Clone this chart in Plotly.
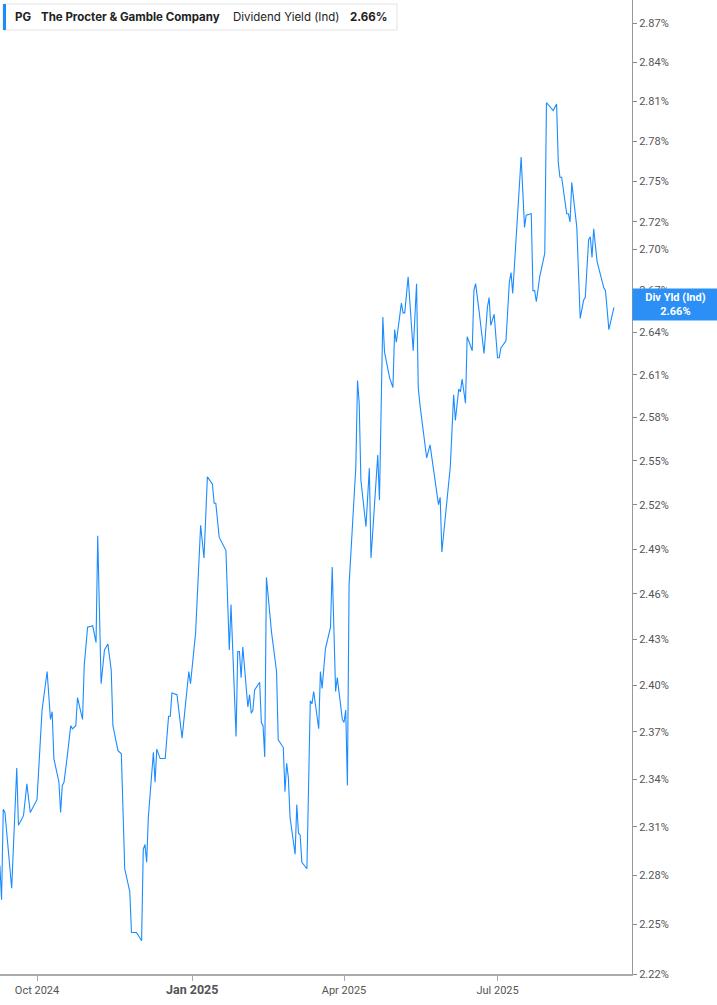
import math
import plotly.graph_objects as go

# Dividend yield (Ind) for PG
dates = [
    "2024-09-09", "2024-09-10", "2024-09-11", "2024-09-12", "2024-09-16", "2024-09-19",
    "2024-09-20", "2024-09-23", "2024-09-25", "2024-09-27",
    "2024-10-01", "2024-10-04", "2024-10-07", "2024-10-09", "2024-10-10", "2024-10-11",
    "2024-10-14", "2024-10-15", "2024-10-16", "2024-10-17", "2024-10-19", "2024-10-21",
    "2024-10-22", "2024-10-24", "2024-10-25", "2024-10-28", "2024-10-29", "2024-10-31",
    "2024-11-03", "2024-11-05", "2024-11-06", "2024-11-08", "2024-11-10", "2024-11-12",
    "2024-11-14", "2024-11-15", "2024-11-18", "2024-11-20", "2024-11-22", "2024-11-25",
    "2024-11-26", "2024-11-29",
    "2024-12-02", "2024-12-03", "2024-12-04", "2024-12-05", "2024-12-06", "2024-12-09",
    "2024-12-10", "2024-12-11", "2024-12-13", "2024-12-16", "2024-12-18", "2024-12-19",
    "2024-12-20", "2024-12-23", "2024-12-26", "2024-12-28", "2024-12-30", "2024-12-31",
    "2025-01-03", "2025-01-06", "2025-01-08", "2025-01-10", "2025-01-13", "2025-01-14",
    "2025-01-15", "2025-01-17", "2025-01-21", "2025-01-23", "2025-01-24", "2025-01-27",
    "2025-01-28", "2025-01-29", "2025-01-30", "2025-01-31",
    "2025-02-03", "2025-02-04", "2025-02-05", "2025-02-06", "2025-02-07", "2025-02-10",
    "2025-02-11", "2025-02-12", "2025-02-13", "2025-02-14", "2025-02-17", "2025-02-20",
    "2025-02-21", "2025-02-24", "2025-02-25", "2025-02-26", "2025-02-27", "2025-02-28",
    "2025-03-03", "2025-03-04", "2025-03-05", "2025-03-06", "2025-03-07", "2025-03-10",
    "2025-03-12", "2025-03-13", "2025-03-14", "2025-03-17", "2025-03-18", "2025-03-19",
    "2025-03-21", "2025-03-24", "2025-03-25", "2025-03-27", "2025-03-28", "2025-03-31",
    "2025-04-01", "2025-04-02", "2025-04-03", "2025-04-04", "2025-04-06", "2025-04-08",
    "2025-04-09", "2025-04-10", "2025-04-11", "2025-04-14", "2025-04-16", "2025-04-17",
    "2025-04-21", "2025-04-22", "2025-04-24", "2025-04-25", "2025-04-28", "2025-04-30",
    "2025-05-01", "2025-05-02", "2025-05-05", "2025-05-06", "2025-05-07", "2025-05-09",
    "2025-05-12", "2025-05-14", "2025-05-15", "2025-05-16", "2025-05-20", "2025-05-22",
    "2025-05-27", "2025-05-28", "2025-05-29",
    "2025-06-03", "2025-06-05", "2025-06-06", "2025-06-08", "2025-06-09", "2025-06-10",
    "2025-06-12", "2025-06-13", "2025-06-16", "2025-06-17", "2025-06-18", "2025-06-20",
    "2025-06-23", "2025-06-25", "2025-06-26", "2025-06-27", "2025-06-29",
    "2025-07-01", "2025-07-02", "2025-07-03", "2025-07-06", "2025-07-08", "2025-07-09",
    "2025-07-10", "2025-07-13", "2025-07-15", "2025-07-17", "2025-07-18", "2025-07-21",
    "2025-07-22", "2025-07-23", "2025-07-24", "2025-07-26", "2025-07-29", "2025-07-30",
    "2025-08-01", "2025-08-03", "2025-08-05", "2025-08-06", "2025-08-07", "2025-08-08",
    "2025-08-11", "2025-08-12", "2025-08-13", "2025-08-14", "2025-08-17", "2025-08-19",
    "2025-08-21", "2025-08-22", "2025-08-24", "2025-08-25", "2025-08-26", "2025-08-27",
    "2025-08-29", "2025-09-02", "2025-09-03", "2025-09-05", "2025-09-08",
]

div_yield = [
    2.286, 2.265, 2.321, 2.319, 2.272, 2.347, 2.311, 2.317, 2.337, 2.319,
    2.327, 2.384, 2.409, 2.378, 2.383, 2.353, 2.338, 2.319, 2.336, 2.338, 2.355, 2.374,
    2.372, 2.374, 2.392, 2.378, 2.413, 2.438,
    2.439, 2.428, 2.499, 2.401, 2.423, 2.427, 2.410, 2.374, 2.358, 2.356, 2.284, 2.270,
    2.245, 2.245,
    2.240, 2.296, 2.299, 2.288, 2.316, 2.357, 2.338, 2.359, 2.353, 2.353, 2.380, 2.380,
    2.395, 2.394, 2.366, 2.390, 2.409, 2.401,
    2.434, 2.506, 2.484, 2.539, 2.534, 2.521, 2.521, 2.498, 2.489, 2.423, 2.453, 2.367,
    2.422, 2.422, 2.405, 2.425,
    2.386, 2.394, 2.382, 2.384, 2.397, 2.402, 2.376, 2.374, 2.354, 2.471, 2.435, 2.409,
    2.365, 2.360, 2.332, 2.350, 2.341, 2.316,
    2.293, 2.324, 2.306, 2.305, 2.288, 2.284, 2.390, 2.388, 2.396, 2.372, 2.409, 2.398,
    2.424, 2.438, 2.478, 2.396, 2.405, 2.378,
    2.376, 2.384, 2.336, 2.466, 2.505, 2.546, 2.606, 2.590, 2.537, 2.505, 2.545, 2.484,
    2.554, 2.523, 2.651, 2.626, 2.608, 2.601,
    2.642, 2.633, 2.661, 2.654, 2.654, 2.680, 2.627, 2.675, 2.601, 2.589, 2.552, 2.561,
    2.520, 2.525, 2.488,
    2.546, 2.596, 2.578, 2.600, 2.598, 2.607, 2.590, 2.637, 2.627, 2.670, 2.675, 2.656,
    2.625, 2.658, 2.665, 2.645, 2.653,
    2.622, 2.622, 2.629, 2.634, 2.676, 2.683, 2.668, 2.729, 2.768, 2.716, 2.725, 2.726,
    2.670, 2.670, 2.662, 2.680, 2.697, 2.809,
    2.806, 2.803, 2.808, 2.764, 2.753, 2.753, 2.726, 2.726, 2.720, 2.749, 2.716, 2.650,
    2.663, 2.665, 2.707, 2.709, 2.694, 2.715, 2.691, 2.672, 2.670, 2.642, 2.658,
]

y_ticks = [2.22, 2.25, 2.28, 2.31, 2.34, 2.37, 2.40, 2.43, 2.46, 2.49, 2.52, 2.55,
           2.58, 2.61, 2.64, 2.67, 2.70, 2.72, 2.75, 2.78, 2.81, 2.84, 2.87]
x_ticks = ["2024-10-01", "2025-01-01", "2025-04-01", "2025-07-01"]
x_labels = ["Oct 2024", "<span style='font-size:12.5px'><b>Jan 2025</b></span>",
            "Apr 2025", "Jul 2025"]

last_value = 2.66
line_color = "#1a8cff"

fig = go.Figure()
fig.add_trace(go.Scatter(
    x=dates, y=div_yield, mode="lines",
    line=dict(color=line_color, width=1.1),
    hoverinfo="x+y", showlegend=False,
))

# plot area is 632 x 974 px
W, H = 632, 974
def px(x):
    return x / W
def py(y):
    return 1 - y / H

fig.update_layout(
    width=717, height=1005,
    margin=dict(l=0, r=85, t=0, b=31),
    paper_bgcolor="white", plot_bgcolor="white",
    font=dict(family="Roboto, Arial, sans-serif", color="#555"),
    xaxis=dict(
        type="date",
        range=["2024-09-09 01:40", "2025-09-18 17:00"],
        tickvals=x_ticks, ticktext=x_labels,
        showgrid=False, zeroline=False,
        showline=True, linecolor="#aaa", linewidth=1.5,
        ticks="outside", ticklen=5, tickcolor="#aaa",
        tickfont=dict(size=11, color="#555"),
    ),
    yaxis=dict(
        type="log", side="right",
        range=[math.log10(2.22), math.log10(2.888)],
        tickvals=y_ticks, ticktext=[f"{v:.2f}%" for v in y_ticks],
        showgrid=False, zeroline=False,
        showline=True, linecolor="#999", linewidth=1,
        ticks="outside", ticklen=4, tickcolor="#888",
        tickfont=dict(size=11, color="#555"),
    ),
    shapes=[
        dict(type="rect", xref="paper", yref="paper",
             x0=px(3), x1=px(397), y0=py(30), y1=py(4),
             line=dict(color="#e3e3e3", width=1), fillcolor="white", layer="above"),
        dict(type="rect", xref="paper", yref="paper",
             x0=px(3), x1=px(6), y0=py(30), y1=py(4),
             line=dict(width=0), fillcolor=line_color, layer="above"),
    ],
)

legend_parts = [
    (13, "<b>PG</b>"),
    (39, "<b>The Procter &amp; Gamble Company</b>"),
    (231, "Dividend Yield (Ind)"),
    (348, "<b>%.2f%%</b>" % last_value),
]
for x0, txt in legend_parts:
    fig.add_annotation(
        x=px(x0), y=py(17), xref="paper", yref="paper",
        xanchor="left", yanchor="middle", showarrow=False,
        text=txt, font=dict(size=11.5, color="#222", family="Inter, Roboto, sans-serif"),
    )

# value tag on the right axis
fig.add_annotation(
    x=1, y=math.log10(last_value), xref="paper", yref="y",
    xanchor="left", yanchor="middle", showarrow=False,
    text="<b>Div Yld (Ind)<br>%.2f%%</b>" % last_value,
    font=dict(size=11, color="white", family="Roboto, Arial, sans-serif"),
    bgcolor="#2b8ff5", width=81, height=27, borderpad=2, align="center",
)

fig.write_html("out.html", config={"displayModeBar": False},
               post_script="document.body.style.margin='0';")
